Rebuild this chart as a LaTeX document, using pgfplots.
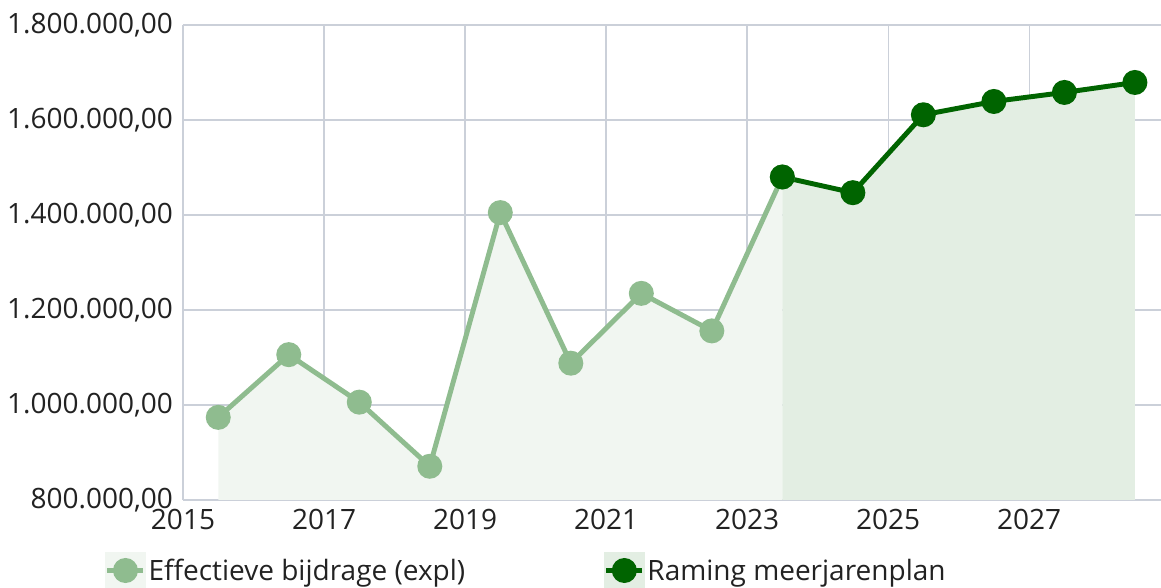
\documentclass[border=0pt]{standalone}
\usepackage{pgfplots}
\pgfplotsset{compat=1.18}
\usepackage{fontspec}
\setmainfont{Open Sans}
\definecolor{lgreen}{RGB}{143,188,143}
\definecolor{dgreen}{RGB}{0,100,0}
\definecolor{lfill}{RGB}{241,246,241}
\definecolor{dfill}{RGB}{227,238,227}
\definecolor{gridc}{RGB}{203,208,217}
\definecolor{txt}{RGB}{34,34,34}
\pgfplotstableread{
x y
2015.5 974000
2016.5 1106000
2017.5 1006000
2018.5 871000
2019.5 1405000
2020.5 1088000
2021.5 1235000
2022.5 1156000
2023.5 1480000
}\effectief
\pgfplotstableread{
x y
2023.5 1480000
2024.5 1447000
2025.5 1611000
2026.5 1639000
2027.5 1658000
2028.5 1679000
}\raming
\begin{document}
\begin{tikzpicture}[x=1pt,y=1pt]
\begin{axis}[
  name=ax,
  at={(0,0)}, anchor=south west,
  scale only axis,
  width=733.5pt, height=356.25pt,
  xmin=2015, xmax=2028.87,
  ymin=800000, ymax=1800000,
  axis line style={draw=none},
  xtick={2015,2017,...,2027},
  ytick={800000,1000000,...,1800000},
  major tick length=0pt,
  grid=major,
  grid style={gridc, line width=0.9pt},
  tick label style={font=\fontsize{21}{24}\selectfont, text=txt},
  x tick label style={/pgf/number format/1000 sep={}, yshift=-3pt},
  y tick label style={xshift=-4pt, /pgf/number format/.cd, fixed, fixed zerofill, precision=2, use comma, 1000 sep={.}},
  /pgf/number format/assume math mode=true,
  scaled y ticks=false,
  clip=false,
  legend columns=2,
  legend style={draw=none, fill=none, font=\fontsize{21}{24}\selectfont, text=txt,
    at={(-0.08,-0.109)}, anchor=north west,
    /tikz/every even column/.append style={column sep=102pt},
    inner sep=0pt},
  legend cell align=left,
]
\addplot[draw=none, fill=lfill, forget plot] table[x=x,y=y]{\effectief} |- (axis cs:2015.5,800000) -- cycle;
\addplot[draw=none, fill=dfill, forget plot] table[x=x,y=y]{\raming} |- (axis cs:2023.5,800000) -- cycle;
\addplot[lgreen, line width=3.7pt, mark=*, mark size=7.5pt, mark options={fill=lgreen, draw=none},
  legend image code/.code={
    \fill[lfill] (0pt,-12pt) rectangle (27pt,12pt);
    \draw[lgreen, line width=3.7pt] (0pt,0pt) -- (27pt,0pt);
    \fill[lgreen] (13.5pt,0pt) circle (7.5pt);
  }] table[x=x,y=y]{\effectief};
\addlegendentry{Effectieve bijdrage (expl)}
\addplot[dgreen, line width=3.7pt, mark=*, mark size=7.5pt, mark options={fill=dgreen, draw=none},
  legend image code/.code={
    \fill[dfill] (0pt,-12pt) rectangle (27pt,12pt);
    \draw[dgreen, line width=3.7pt] (0pt,0pt) -- (27pt,0pt);
    \fill[dgreen] (13.5pt,0pt) circle (7.5pt);
  }] table[x=x,y=y]{\raming};
\addlegendentry{Raming meerjarenplan}
\end{axis}
\pgfresetboundingbox
\path (-137.25pt,-66pt) rectangle (733.5pt,375pt);
\end{tikzpicture}
\end{document}
